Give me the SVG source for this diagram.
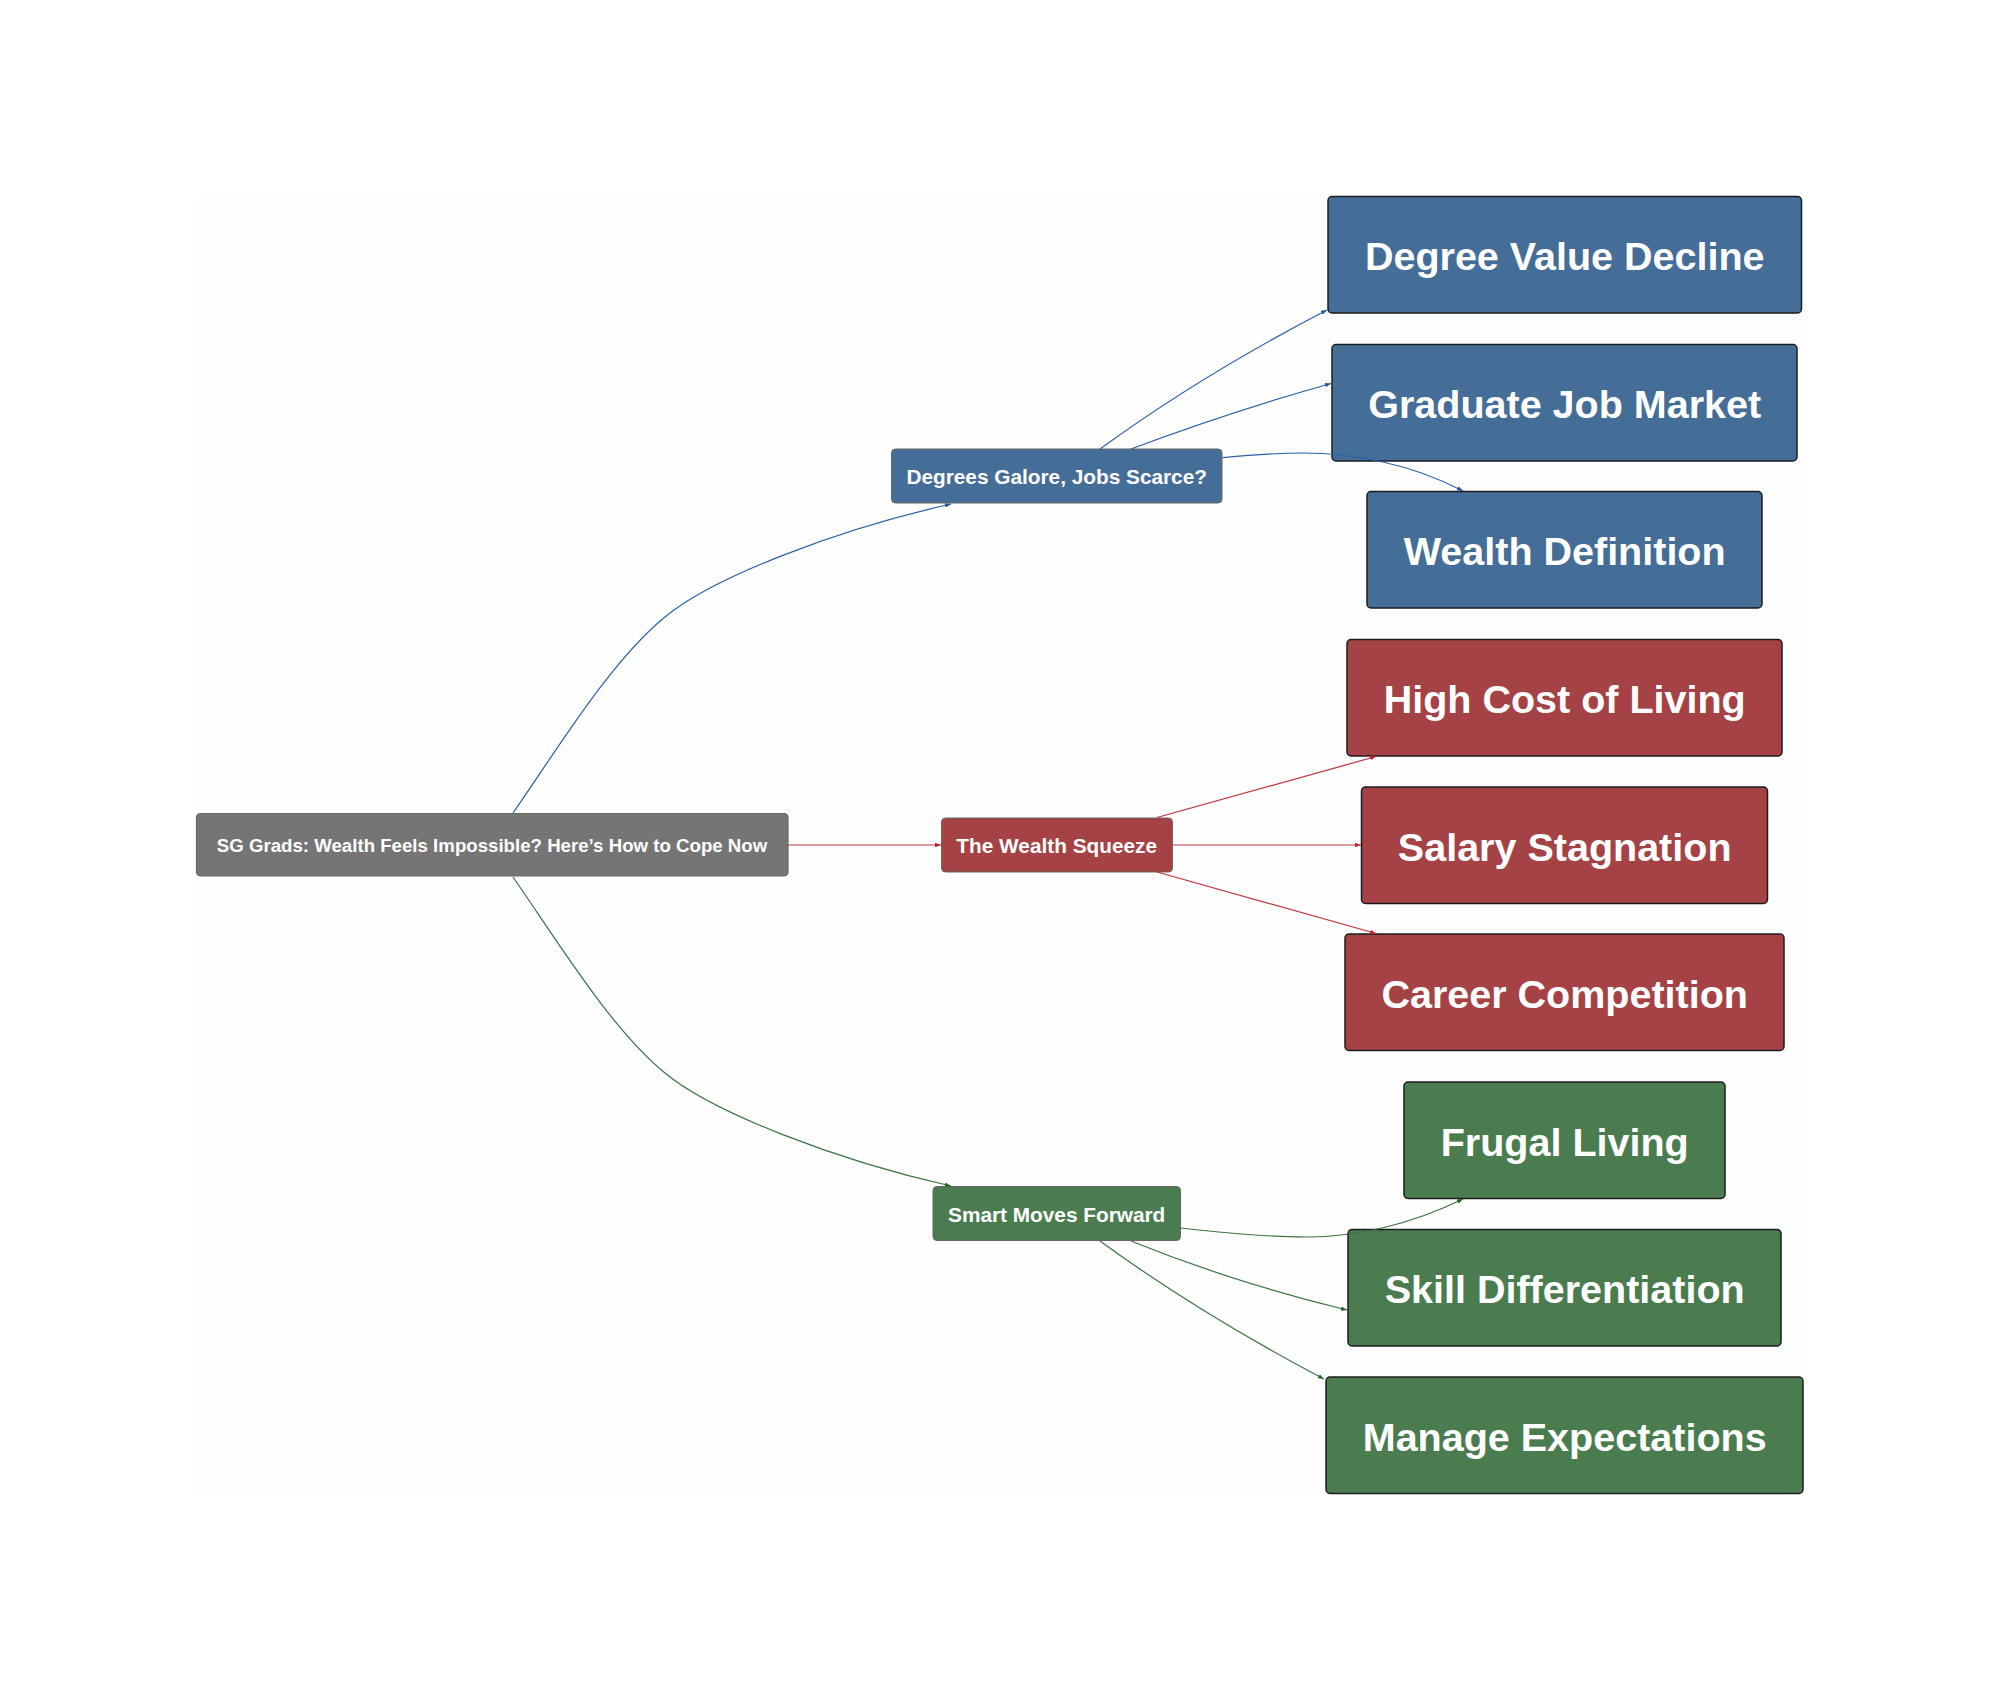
<svg xmlns="http://www.w3.org/2000/svg" width="2000" height="1690" viewBox="0 0 2000 1690">
<style>
.bg{fill:#fefefe}
.root rect{fill:#757575;stroke:#666;stroke-width:1.2}
.mid rect{stroke:#666;stroke-width:1}
.leaf rect{stroke:#1c1c1c;stroke-width:1.5}
.b rect{fill:#446d98}
.r rect{fill:#a54245}
.g rect{fill:#4b7c4f}
text{fill:#fff;font-family:"Liberation Sans",Arial,sans-serif;font-weight:700;text-anchor:middle;dominant-baseline:central}
.root text{font-size:18.67px}
.mid text{font-size:20.8px}
.leaf text{font-size:39.5px}
.e path{fill:none;stroke-width:1.2}
.eb path{stroke:#2a5fa8;marker-end:url(#ab)}
.er path{stroke:#c0323a;marker-end:url(#ar)}
.eg path{stroke:#3a7340;marker-end:url(#ag)}
</style>
<defs>
<marker id="ab" viewBox="0 0 8 6" refX="8" refY="3" markerWidth="6" markerHeight="4.5" orient="auto" markerUnits="userSpaceOnUse"><path d="M0,0L8,3L0,6Z" fill="#1f55a5"/></marker>
<marker id="ar" viewBox="0 0 8 6" refX="8" refY="3" markerWidth="6" markerHeight="4.5" orient="auto" markerUnits="userSpaceOnUse"><path d="M0,0L8,3L0,6Z" fill="#b8262c"/></marker>
<marker id="ag" viewBox="0 0 8 6" refX="8" refY="3" markerWidth="6" markerHeight="4.5" orient="auto" markerUnits="userSpaceOnUse"><path d="M0,0L8,3L0,6Z" fill="#25602a"/></marker>
</defs>
<rect width="2000" height="1690" fill="#fff"/>
<rect class="bg" x="196" y="195" width="1608" height="1300"/>
<g id="root" class="n root"><rect x="196.500" y="813.500" width="591.500" height="62.500" rx="4"/><text x="492" y="845">SG Grads: Wealth Feels Impossible? Here’s How to Cope Now</text></g>
<g id="m1" class="n mid b"><rect x="891.500" y="449" width="330.500" height="54" rx="4"/><text x="1056.700" y="476.500">Degrees Galore, Jobs Scarce?</text></g>
<g id="m2" class="n mid r"><rect x="941.500" y="818" width="231" height="54" rx="4"/><text x="1056.700" y="845.500">The Wealth Squeeze</text></g>
<g id="m3" class="n mid g"><rect x="933" y="1186.500" width="247.500" height="54" rx="4"/><text x="1056.700" y="1214">Smart Moves Forward</text></g>
<g id="l1" class="n leaf b"><rect x="1328" y="196.500" width="473.500" height="116.500" rx="4"/><text x="1564.700" y="256">Degree Value Decline</text></g>
<g id="l2" class="n leaf b"><rect x="1332" y="344.500" width="465" height="116.500" rx="4"/><text x="1564.700" y="403.700">Graduate Job Market</text></g>
<g id="l3" class="n leaf b"><rect x="1367" y="491.500" width="395" height="116.500" rx="4"/><text x="1564.700" y="551">Wealth Definition</text></g>
<g id="l4" class="n leaf r"><rect x="1347" y="639.500" width="435" height="116.500" rx="4"/><text x="1564.700" y="699">High Cost of Living</text></g>
<g id="l5" class="n leaf r"><rect x="1361.500" y="787" width="406" height="116.500" rx="4"/><text x="1564.700" y="846.500">Salary Stagnation</text></g>
<g id="l6" class="n leaf r"><rect x="1345" y="934" width="439" height="116.500" rx="4"/><text x="1564.700" y="994">Career Competition</text></g>
<g id="l7" class="n leaf g"><rect x="1404" y="1082" width="321" height="116.500" rx="4"/><text x="1564.700" y="1141.500">Frugal Living</text></g>
<g id="l8" class="n leaf g"><rect x="1348" y="1229.500" width="433" height="116.500" rx="4"/><text x="1564.700" y="1289">Skill Differentiation</text></g>
<g id="l9" class="n leaf g"><rect x="1326" y="1377" width="477" height="116.500" rx="4"/><text x="1564.700" y="1436.700">Manage Expectations</text></g>
<g id="connectors" class="e">
<g class="eb">
<path d="M513,813C560,745 612,660 665,617C712,578 835,530 951,504"/>
<path d="M1100,449C1170,398 1250,350 1327,310"/>
<path d="M1131,449C1195,425 1265,402 1331,383.500"/>
<path d="M1222.700,457.700C1250,455 1275,453 1303,453C1350,453 1410,463 1463,491"/>
</g>
<g class="er">
<path d="M788,845H941"/>
<path d="M1157,817.500L1376,756.500"/>
<path d="M1172.300,845H1361"/>
<path d="M1157,872L1376,933.500"/>
</g>
<g class="eg">
<path d="M513,877C560,945 612,1030 665,1073C712,1112 835,1160 951,1186"/>
<path d="M1181,1228C1225,1233 1265,1237 1307,1237C1355,1237 1410,1225 1463,1199"/>
<path d="M1131,1241C1195,1267 1265,1290 1347,1310"/>
<path d="M1100,1241C1170,1292 1250,1340 1324,1379"/>
</g>
</g>
</svg>
